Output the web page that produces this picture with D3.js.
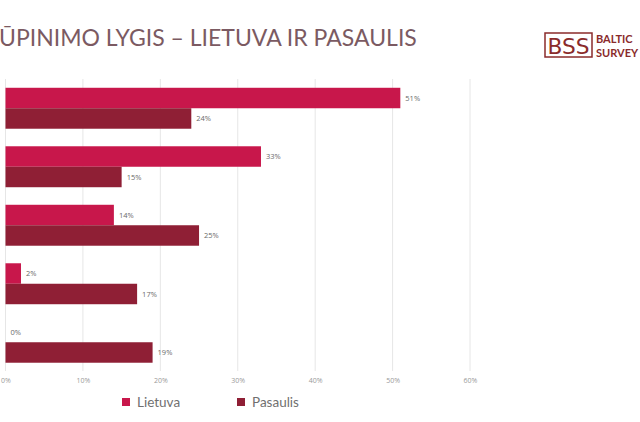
<!DOCTYPE html>
<html><head><meta charset="utf-8">
<script src="https://cdn.jsdelivr.net/npm/d3@7"></script>
<style>body{margin:0;background:#fff;}svg{display:block;}</style>
</head><body>
<script>
const categories = ["A", "B", "C", "D", "E"];
const seriesNames = ["Lietuva", "Pasaulis"];
const lietuva = [51, 33, 14, 2, 0];
const pasaulis = [24, 15, 25, 17, 19];
const tickValues = [0, 10, 20, 30, 40, 50, 60];
const titleText = "ŪPINIMO LYGIS – LIETUVA IR PASAULIS";
const colors = ["#c8174b", "#8f1f35"];

const W = 640, H = 422;
const svg = d3.select("body").append("svg").attr("width", W).attr("height", H);

const x = d3.scaleLinear().domain([0, 60]).range([5.5, 470]);
const y = d3.scaleBand().domain(categories).range([79, 371.5]).paddingInner(0.3).paddingOuter(0.15);
const ys = d3.scaleBand().domain(seriesNames).range([0, y.bandwidth()]);

// gridlines
svg.append("g").selectAll("line").data(tickValues).join("line")
  .attr("x1", d => x(d)).attr("x2", d => x(d))
  .attr("y1", 79).attr("y2", 371)
  .attr("stroke", "#e6e6e6").attr("stroke-width", 1);

// axis labels
const ax = svg.append("g").attr("transform", "translate(0,380)")
  .call(d3.axisBottom(x).tickValues(tickValues).tickFormat(d => d + "%").tickSize(0));
ax.select(".domain").remove();
ax.selectAll("text").attr("fill", "#9a9a9a").attr("font-size", 7).attr("font-family", "Open Sans, sans-serif").attr("dy", "0");

const data = categories.map((c, i) => ({c, vals: [lietuva[i], pasaulis[i]]}));
const g = svg.append("g");
data.forEach(d => {
  d.vals.forEach((v, j) => {
    const y0 = y(d.c) + ys(seriesNames[j]);
    g.append("rect").attr("x", x(0)).attr("y", y0)
      .attr("width", x(v) - x(0)).attr("height", ys.bandwidth())
      .attr("fill", colors[j]);
    g.append("text").attr("x", x(v) + 5).attr("y", y0 + ys.bandwidth() / 2)
      .attr("dy", "0.35em").attr("font-size", 7.5).attr("fill", "#6a6a6a")
      .attr("font-family", "Open Sans, sans-serif").text(v + "%");
  });
});

// title
svg.append("text").attr("x", -1).attr("y", 46).attr("font-family", "Lato, sans-serif")
  .attr("font-size", 23).attr("fill", "#7b5a62").text(titleText);

// logo
const logo = svg.append("g");
logo.append("rect").attr("x", 545).attr("y", 33).attr("width", 47).attr("height", 24)
  .attr("fill", "none").attr("stroke", "#8a2b2b").attr("stroke-width", 1.5);
logo.append("text").attr("x", 568.5).attr("y", 54).attr("text-anchor", "middle")
  .attr("font-family", "DejaVu Sans, sans-serif").attr("font-size", 22).attr("fill", "#8a2b2b")
  .attr("textLength", 42).attr("lengthAdjust", "spacingAndGlyphs").text("BSS");
logo.append("text").attr("x", 596).attr("y", 42.5).attr("font-family", "Lato, sans-serif")
  .attr("font-size", 11).attr("font-weight", 700).attr("fill", "#8a2b2b").text("BALTIC");
logo.append("text").attr("x", 596).attr("y", 56.5).attr("font-family", "Lato, sans-serif")
  .attr("font-size", 11).attr("font-weight", 700).attr("fill", "#8a2b2b").text("SURVEY");

// legend
const legX = [122, 237];
seriesNames.forEach((s, j) => {
  svg.append("rect").attr("x", legX[j]).attr("y", 398).attr("width", 8).attr("height", 8).attr("fill", colors[j]);
  svg.append("text").attr("x", legX[j] + 15).attr("y", 407).attr("font-family", "Lato, sans-serif")
    .attr("font-size", 13.5).attr("fill", "#707070").text(s);
});
</script>
</body></html>
